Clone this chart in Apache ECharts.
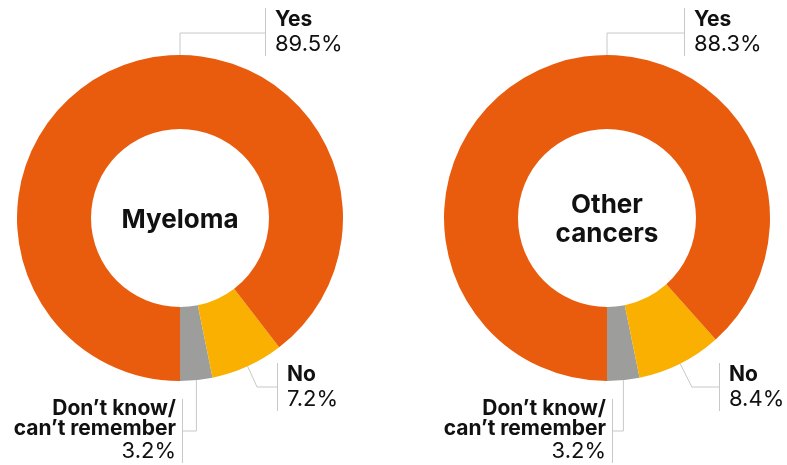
<!DOCTYPE html>
<html>
<head>
<meta charset="utf-8">
<style>
  html, body { margin: 0; padding: 0; background: #fff; }
  #chart { width: 787px; height: 465px; }
</style>
<script src="https://cdn.jsdelivr.net/npm/echarts@6/dist/echarts.min.js"></script>
</head>
<body>
<div id="chart"></div>
<script>
  // data
  var groups = ['Myeloma', 'Other\ncancers']
  var categories = ['Don’t know/\ncan’t remember', 'No', 'Yes']
  var myeloma = [3.2, 7.2, 89.5]
  var otherCancers = [3.2, 8.4, 88.3]

  var colors = ['#9d9d9c', '#f9b000', '#e95c0e']
  var lineColor = '#c8c8c8'
  var font = 'Inter, "Noto Sans", sans-serif'

  var R_IN = 89, R_OUT = 163
  var centers = [[180, 218], [607, 218]]
  // x offset of the label bar from the donut centre: [dontKnow, no, yes]
  var barOffsets = [[3, 97, 85], [6, 112, 77]]

  function labelText(name, value, idx) {
    var v = value.toFixed(1) + '%'
    if (idx === 0) {
      var parts = name.split('\n')
      return '{b|' + parts[0] + '}{sr|}{bb|}\n{b|' + parts[1] + '}{sr|}{bb|}\n{v|' + v + '}{sr|}{bv|}'
    }
    return '{bv|}{sp|}{t|' + name + '}\n{bv|}{sp|}{v|' + v + '}'
  }

  function makeLayout(si, values) {
    var cx = centers[si][0], cy = centers[si][1]
    var total = values.reduce(function (a, b) { return a + b }, 0)
    return function (p) {
      var i = p.dataIndex
      var cum = 0
      for (var k = 0; k < i; k++) cum += values[k]
      var th = (cum + values[i] / 2) / total * Math.PI * 2
      var px = cx + R_OUT * Math.sin(th), py = cy + R_OUT * Math.cos(th)
      var barX = cx + barOffsets[si][i]
      if (i === 0) {
        var ly = cy + 213
        return {
          x: barX, y: cy + 181, align: 'right', verticalAlign: 'top',
          labelLinePoints: [[px, py], [px, ly], [barX, ly]]
        }
      } else if (i === 1) {
        var ly1 = cy + 169
        var ex = cx + (169 / Math.cos(th)) * Math.sin(th)
        return {
          x: barX, y: cy + 145, align: 'left', verticalAlign: 'top',
          labelLinePoints: [[px, py], [ex, ly1], [barX, ly1]]
        }
      }
      var ly2 = cy - 185
      return {
        x: barX, y: cy - 210, align: 'left', verticalAlign: 'top',
        labelLinePoints: [[cx, cy - R_OUT], [cx, ly2], [barX, ly2]]
      }
    }
  }

  function makeSeries(si, values) {
    return {
      type: 'pie',
      center: centers[si],
      radius: [R_IN, R_OUT],
      startAngle: 270,
      clockwise: false,
      avoidLabelOverlap: false,
      silent: true,
      animation: false,
      emphasis: { scale: false },
      label: {
        show: true,
        position: 'outside',
        formatter: function (p) { return labelText(p.name, p.value, p.dataIndex) },
        rich: {
          bb: { width: 1, height: 20, lineHeight: 20, backgroundColor: lineColor },
          bv: { width: 1, height: 24, lineHeight: 24, backgroundColor: lineColor },
          sp: { width: 9 },
          sr: { width: 6 },
          b: { fontFamily: font, fontWeight: 'bold', fontSize: 21, lineHeight: 20, color: '#111' },
          t: { fontFamily: font, fontWeight: 'bold', fontSize: 21, lineHeight: 24, color: '#111' },
          v: { fontFamily: font, fontSize: 22, lineHeight: 24, color: '#111' }
        }
      },
      labelLine: { show: true, lineStyle: { color: lineColor, width: 1 } },
      labelLayout: makeLayout(si, values),
      data: values.map(function (v, i) {
        return { name: categories[i], value: v, itemStyle: { color: colors[i] } }
      })
    }
  }

  var chart = echarts.init(document.getElementById('chart'))
  chart.setOption({
    backgroundColor: '#fff',
    title: groups.map(function (g, i) {
      return {
        text: g,
        left: centers[i][0],
        top: centers[i][1] + 2,
        padding: 0,
        textAlign: 'center',
        textVerticalAlign: 'middle',
        textStyle: { fontFamily: font, fontWeight: 'bold', fontSize: 26, lineHeight: 29, color: '#111' }
      }
    }),
    series: [makeSeries(0, myeloma), makeSeries(1, otherCancers)]
  })
</script>
</body>
</html>
